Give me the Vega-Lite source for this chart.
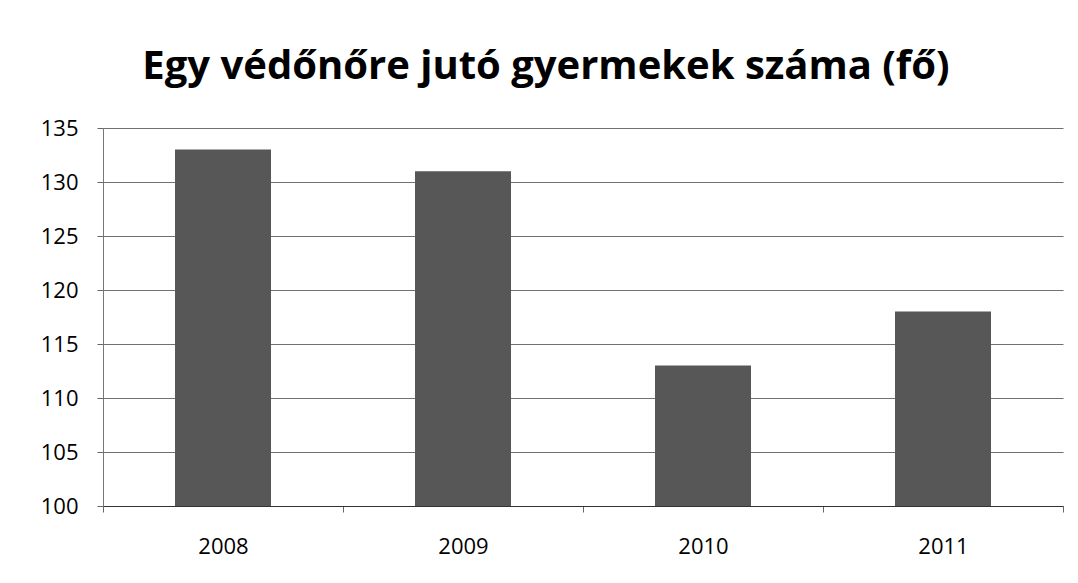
{
  "$schema": "https://vega.github.io/schema/vega-lite/v6.json",
  "width": 960,
  "height": 378,
  "autosize": "none",
  "padding": {"left": 103, "top": 128, "right": 15, "bottom": 77},
  "background": "white",
  "title": {
    "text": "Egy védőnőre jutó gyermekek száma (fő)",
    "font": "Open Sans",
    "fontSize": 40,
    "fontWeight": "bold",
    "color": "#000000",
    "anchor": "middle",
    "dx": -37,
    "offset": 30
  },
  "data": {
    "values": [
      {"ev": "2008", "ertek": 133},
      {"ev": "2009", "ertek": 131},
      {"ev": "2010", "ertek": 113},
      {"ev": "2011", "ertek": 118}
    ]
  },
  "mark": {"type": "bar", "color": "#575757", "clip": true, "width": {"band": 0.4}},
  "encoding": {
    "x": {
      "field": "ev",
      "type": "ordinal",
      "title": null,
      "scale": {"paddingInner": 0, "paddingOuter": 0},
      "axis": {
        "labelAngle": 0,
        "labelFont": "Open Sans",
        "labelFontSize": 22,
        "labelColor": "#000000",
        "labelPadding": 24,
        "tickBand": "extent",
        "ticks": true,
        "tickSize": 6,
        "tickColor": "#666666",
        "domainColor": "#333333",
        "grid": false
      }
    },
    "y": {
      "field": "ertek",
      "type": "quantitative",
      "title": null,
      "scale": {"domain": [100, 135], "zero": false, "nice": false},
      "axis": {
        "values": [100, 105, 110, 115, 120, 125, 130, 135],
        "labelFont": "Open Sans",
        "labelFontSize": 22,
        "labelColor": "#000000",
        "labelPadding": 19,
        "tickSize": 6,
        "tickColor": "#666666",
        "domainColor": "#777777",
        "gridColor": "#707070",
        "gridWidth": 1
      }
    }
  },
  "config": {"view": {"stroke": null}}
}
